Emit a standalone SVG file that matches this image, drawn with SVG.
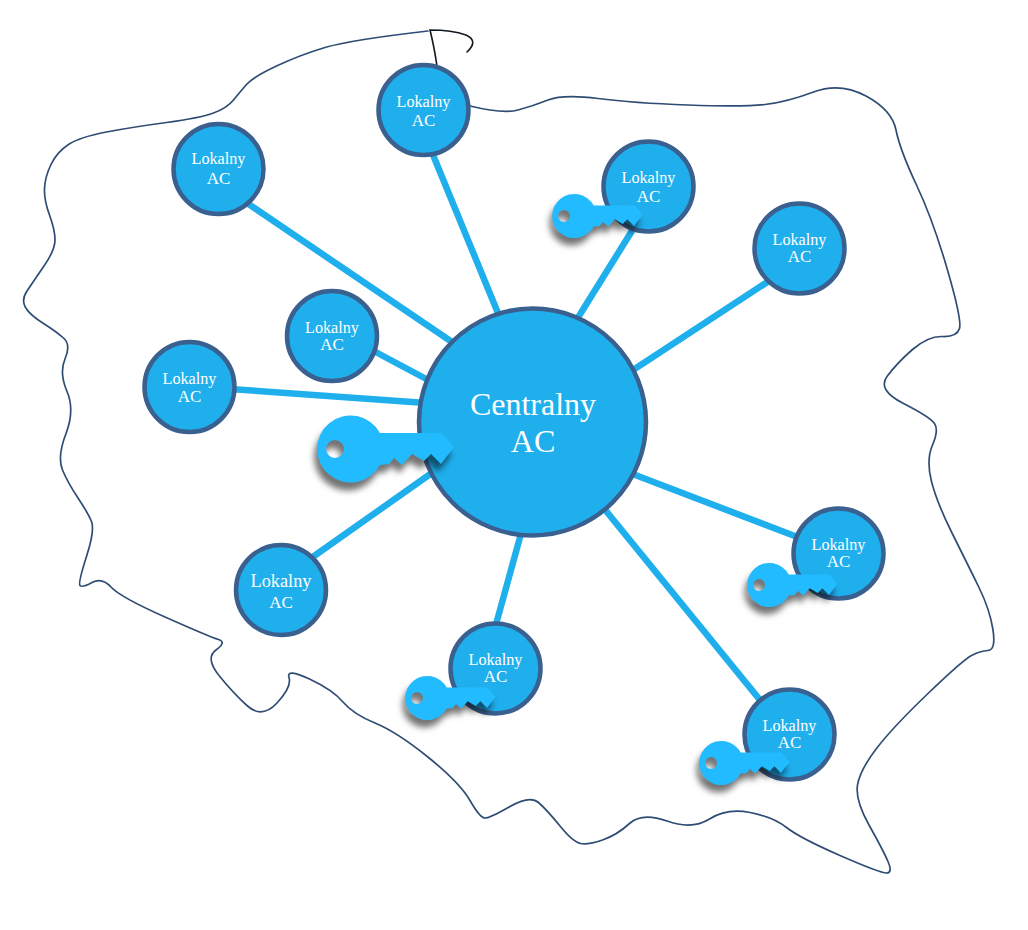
<svg xmlns="http://www.w3.org/2000/svg" width="1028" height="930" viewBox="0 0 1028 930">
<style>
.outline{fill:none;stroke:#2f4d74;stroke-width:1.7;stroke-linejoin:round;stroke-linecap:round}
.tip{fill:none;stroke:#101820;stroke-width:1.6;stroke-linecap:round}
.link{stroke:#1fafed;stroke-width:6.5;fill:none}
.disc{fill:#1fafed;stroke:#3a6090;stroke-width:4.5}
text{font-family:"Liberation Serif","Times New Roman",serif;fill:#fff;text-anchor:middle}
.l1{font-size:16.2px}
.l2{font-size:17px}
.x1{font-size:18.3px}
.c{font-size:32px}
.key{fill:#22bbff;fill-rule:evenodd;filter:url(#keyShadow)}
.small{filter:url(#keyShadowSmall)}
</style>
<defs>
<filter id="keyShadow" x="-20%" y="-30%" width="140%" height="180%" color-interpolation-filters="sRGB">
<feDropShadow dx="-3" dy="8" stdDeviation="3" flood-color="#000" flood-opacity="0.55"/>
</filter>
<filter id="keyShadowSmall" x="-20%" y="-30%" width="140%" height="190%" color-interpolation-filters="sRGB">
<feDropShadow dx="-4" dy="11" stdDeviation="4.5" flood-color="#000" flood-opacity="0.55"/>
</filter>
<path id="k" d="M45,-16 L107,-16 L119,-2 L106,15 L96,5 L89,12 L77,5 L67,16 L59,9 L54,15 L45,16 A33.5,33.5 0 1 1 45,-16 Z M9,0 A9,9 0 1 0 -9,0 A9,9 0 1 0 9,0 Z"/>
</defs>

<g id="map">
<path class="outline" d="M428,31 Q350,40 325,47.5 Q300,55 276.5,66 Q253,77 246.5,84.5 Q240,92 233.5,100 Q227,108 213.5,113 Q200,118 166.5,122.5 Q133,127 106.5,132 Q80,137 68.5,144.5 Q57,152 51,164.5 Q45,177 44.5,188.5 Q44,200 49.5,215 Q55,230 55,240 Q55,250 44,266 Q33,282 27,291 Q21,300 25.5,307.5 Q30,315 43.5,323.5 Q57,332 64,338.5 Q71,345 65,359 Q59,373 67,391.5 Q75,410 66,433.5 Q57,457 62.5,470 Q68,483 78,498 Q88,513 91.5,521.5 Q95,530 86.5,556.5 Q78,583 80,585.5 Q82,588 92,582.5 Q102,577 111,587 Q120,597 165,617 Q210,637 218.5,639.5 Q227,642 216,650 Q205,658 219,675.5 Q233,693 247.5,706 Q262,719 277,703 Q292,687 289,677.5 Q286,668 309.5,679 Q333,690 343,702 Q353,714 375,723 Q397,732 428.5,757.5 Q460,783 470,800.5 Q480,818 485,818 Q490,818 510,806.5 Q530,795 538.5,802.5 Q547,810 560,826 Q573,842 580.5,843.5 Q588,845 602.5,840 Q617,835 629.5,823.5 Q642,812 667,821 Q692,830 709.5,819 Q727,808 750,812.5 Q773,817 786.5,827.5 Q800,838 840,855.5 Q880,873 886.5,873 Q893,873 888,861.5 Q883,850 869,825 Q855,800 857.5,785 Q860,770 876.5,748.5 Q893,727 928,693.5 Q963,660 971.5,655.5 Q980,651 988,650.5 Q996,650 993,630 Q990,610 979,587.5 Q968,565 952.5,534 Q937,503 931.5,481.5 Q926,460 932.5,445 Q939,430 934.5,423.5 Q930,417 903.5,403.5 Q877,390 887,376.5 Q897,363 912.5,349.5 Q928,336 942.5,336.5 Q957,337 959.5,328.5 Q962,320 947.5,270 Q933,220 916.5,185 Q900,150 896,130 Q892,110 866,96 Q840,82 813.5,92 Q787,102 765,104.5 Q743,107 688,105 Q633,103 598,98.5 Q563,94 548,100 Q533,106 518,110 Q503,114 470,106"/>
<path class="tip" d="M437,66 Q434,46 430,30 Q452,30 466,35 Q479,41 467,52"/>
</g>

<g id="connectors">
<line class="link" x1="244" y1="201" x2="455" y2="344"/>
<line class="link" x1="431" y1="150" x2="500" y2="318"/>
<line class="link" x1="635" y1="226" x2="574" y2="324"/>
<line class="link" x1="775" y1="277" x2="630" y2="372"/>
<line class="link" x1="370" y1="349" x2="430" y2="381"/>
<line class="link" x1="230" y1="389" x2="426" y2="403"/>
<line class="link" x1="307" y1="561" x2="436" y2="470"/>
<line class="link" x1="495" y1="628" x2="522" y2="530"/>
<line class="link" x1="800" y1="538" x2="630" y2="473"/>
<line class="link" x1="764" y1="705" x2="602" y2="506"/>
</g>

<g id="central">
<circle class="disc" cx="532.5" cy="422" r="113.5"/>
<text class="c" x="533" y="415">Centralny</text>
<text class="c" x="533" y="452">AC</text>
</g>
<g id="central-key"><use href="#k" class="key" transform="translate(335,449)"/></g>

<g id="node-1"><circle class="disc" cx="218.5" cy="169" r="45"/>
<text class="l1" x="218.5" y="164">Lokalny</text><text class="l2" x="218.5" y="184">AC</text></g>
<g id="node-2"><circle class="disc" cx="423.5" cy="110" r="45"/>
<text class="l1" x="423.5" y="107">Lokalny</text><text class="l2" x="423.5" y="126">AC</text></g>
<g id="node-3"><circle class="disc" cx="648.5" cy="186.5" r="45"/>
<text class="l1" x="648.5" y="183">Lokalny</text><text class="l2" x="648.5" y="202">AC</text>
<use href="#k" class="key small" transform="translate(564,216) scale(.66)"/></g>
<g id="node-4"><circle class="disc" cx="799.5" cy="248.5" r="45"/>
<text class="l1" x="799.5" y="245">Lokalny</text><text class="l2" x="799.5" y="262">AC</text></g>
<g id="node-5"><circle class="disc" cx="332" cy="336" r="45"/>
<text class="l1" x="332" y="333">Lokalny</text><text class="l2" x="332" y="350">AC</text></g>
<g id="node-6"><circle class="disc" cx="189.5" cy="387" r="45"/>
<text class="l1" x="189.5" y="384">Lokalny</text><text class="l2" x="189.5" y="402">AC</text></g>
<g id="node-7"><circle class="disc" cx="281" cy="590" r="45"/>
<text class="x1" x="281" y="587">Lokalny</text><text class="l2" x="281" y="608">AC</text></g>
<g id="node-8"><circle class="disc" cx="495.5" cy="668.5" r="45"/>
<text class="l1" x="495.5" y="665">Lokalny</text><text class="l2" x="495.5" y="682">AC</text>
<use href="#k" class="key small" transform="translate(417,698) scale(.66)"/></g>
<g id="node-9"><circle class="disc" cx="838.5" cy="553.5" r="45"/>
<text class="l1" x="838.5" y="550">Lokalny</text><text class="l2" x="838.5" y="567">AC</text>
<use href="#k" class="key small" transform="translate(759,585) scale(.66)"/></g>
<g id="node-10"><circle class="disc" cx="789.5" cy="734.5" r="45"/>
<text class="l1" x="789.5" y="731">Lokalny</text><text class="l2" x="789.5" y="748">AC</text>
<use href="#k" class="key small" transform="translate(711,763) scale(.66)"/></g>
</svg>
